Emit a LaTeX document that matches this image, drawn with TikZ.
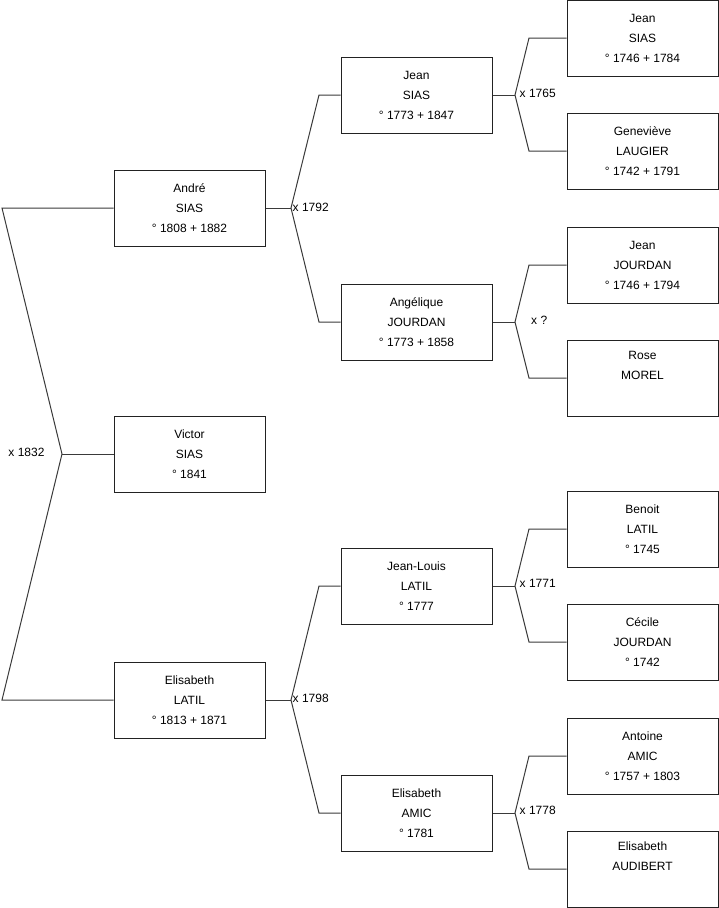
\documentclass[tikz,border=0pt]{standalone}
\usepackage{fontspec}
\setmainfont{Liberation Sans}
\usetikzlibrary{positioning}
\definecolor{ink}{HTML}{222222}
\definecolor{branch}{HTML}{3A3A3A}

\begin{document}
\begin{tikzpicture}[x=1pt, y=-1pt,
    person/.style={draw=ink, line width=1pt, minimum width=151pt, minimum height=76pt,
      inner sep=0pt, align=center, font=\fontsize{12}{20}\selectfont},
    link/.style={draw=branch, line width=1pt},
    wed/.style={font=\fontsize{12}{14}\selectfont, inner sep=0pt}]
    \useasboundingbox (0,0) rectangle (719,908);
    % Generation 1
    \node[person] (andre)     at (189.5,208) {André\\SIAS\\° 1808 + 1882};
    \node[person] (victor)    at (189.5,454) {Victor\\SIAS\\° 1841};
    \node[person] (elisabeth) at (189.5,700) {Elisabeth\\LATIL\\° 1813 + 1871};
    % Generation 2
    \node[person] (jean)      at (416.5,95)  {Jean\\SIAS\\° 1773 + 1847};
    \node[person] (angelique) at (416.5,322) {Angélique\\JOURDAN\\° 1773 + 1858};
    \node[person] (jeanlouis) at (416.5,586) {Jean-Louis\\LATIL\\° 1777};
    \node[person] (amic)      at (416.5,813) {Elisabeth\\AMIC\\° 1781};
    % Generation 3
    \node[person] (jeanS)     at (642.5,38)  {Jean\\SIAS\\° 1746 + 1784};
    \node[person] (genevieve) at (642.5,151) {Geneviève\\LAUGIER\\° 1742 + 1791};
    \node[person] (jeanJ)     at (642.5,265) {Jean\\JOURDAN\\° 1746 + 1794};
    \node[person] (rose)      at (642.5,378) {Rose\\MOREL\\\strut};
    \node[person] (benoit)    at (642.5,529) {Benoit\\LATIL\\° 1745};
    \node[person] (cecile)    at (642.5,642) {Cécile\\JOURDAN\\° 1742};
    \node[person] (antoine)   at (642.5,756) {Antoine\\AMIC\\° 1757 + 1803};
    \node[person] (audibert)  at (642.5,869) {Elisabeth\\AUDIBERT\\\strut};

    % Knicke der Verbindungen
    \coordinate (r0) at (2,208);
    \coordinate (m0) at (62,454);
    \coordinate (r1) at (2,700);
    \coordinate (m1) at (291,208);
    \coordinate (m2) at (515,95);
    \coordinate (m3) at (515,322);
    \coordinate (m4) at (291,700);
    \coordinate (m5) at (515,586);
    \coordinate (m6) at (515,813);

    % Eltern von Victor
    \draw[link] (andre.west) -- (r0) -- (m0) -- (r1) -- (elisabeth.west);
    \draw[link] (m0) -- (victor.west);
    \node[wed] (w0) at (26.5,452) {x 1832};
    % Eltern von Andre
    \draw[link] (andre.east) -- (m1);
    \draw[link] (jean.west) -- (jean.west -| 319,0) -- (m1) -- (angelique.west -| 319,0) -- (angelique.west);
    \node[wed, anchor=west] (w1) at (292.5,207) {x 1792};
    % Eltern von Jean
    \draw[link] (jean.east) -- (m2);
    \draw[link] (jeanS.west) -- (jeanS.west -| 529,0) -- (m2) -- (genevieve.west -| 529,0) -- (genevieve.west);
    \node[wed, anchor=west] (w2) at (519.5,93) {x 1765};
    % Eltern von Angelique
    \draw[link] (angelique.east) -- (m3);
    \draw[link] (jeanJ.west) -- (jeanJ.west -| 529,0) -- (m3) -- (rose.west -| 529,0) -- (rose.west);
    \node[wed, anchor=west] (w3) at (531,320) {x ?};
    % Eltern von Elisabeth
    \draw[link] (elisabeth.east) -- (m4);
    \draw[link] (jeanlouis.west) -- (jeanlouis.west -| 319,0) -- (m4) -- (amic.west -| 319,0) -- (amic.west);
    \node[wed, anchor=west] (w4) at (292.5,698) {x 1798};
    % Eltern von Jean-Louis
    \draw[link] (jeanlouis.east) -- (m5);
    \draw[link] (benoit.west) -- (benoit.west -| 529,0) -- (m5) -- (cecile.west -| 529,0) -- (cecile.west);
    \node[wed, anchor=west] (w5) at (519.5,583) {x 1771};
    % Eltern von Elisabeth AMIC
    \draw[link] (amic.east) -- (m6);
    \draw[link] (antoine.west) -- (antoine.west -| 529,0) -- (m6) -- (audibert.west -| 529,0) -- (audibert.west);
    \node[wed, anchor=west] (w6) at (519.5,810) {x 1778};
\end{tikzpicture}
\end{document}
